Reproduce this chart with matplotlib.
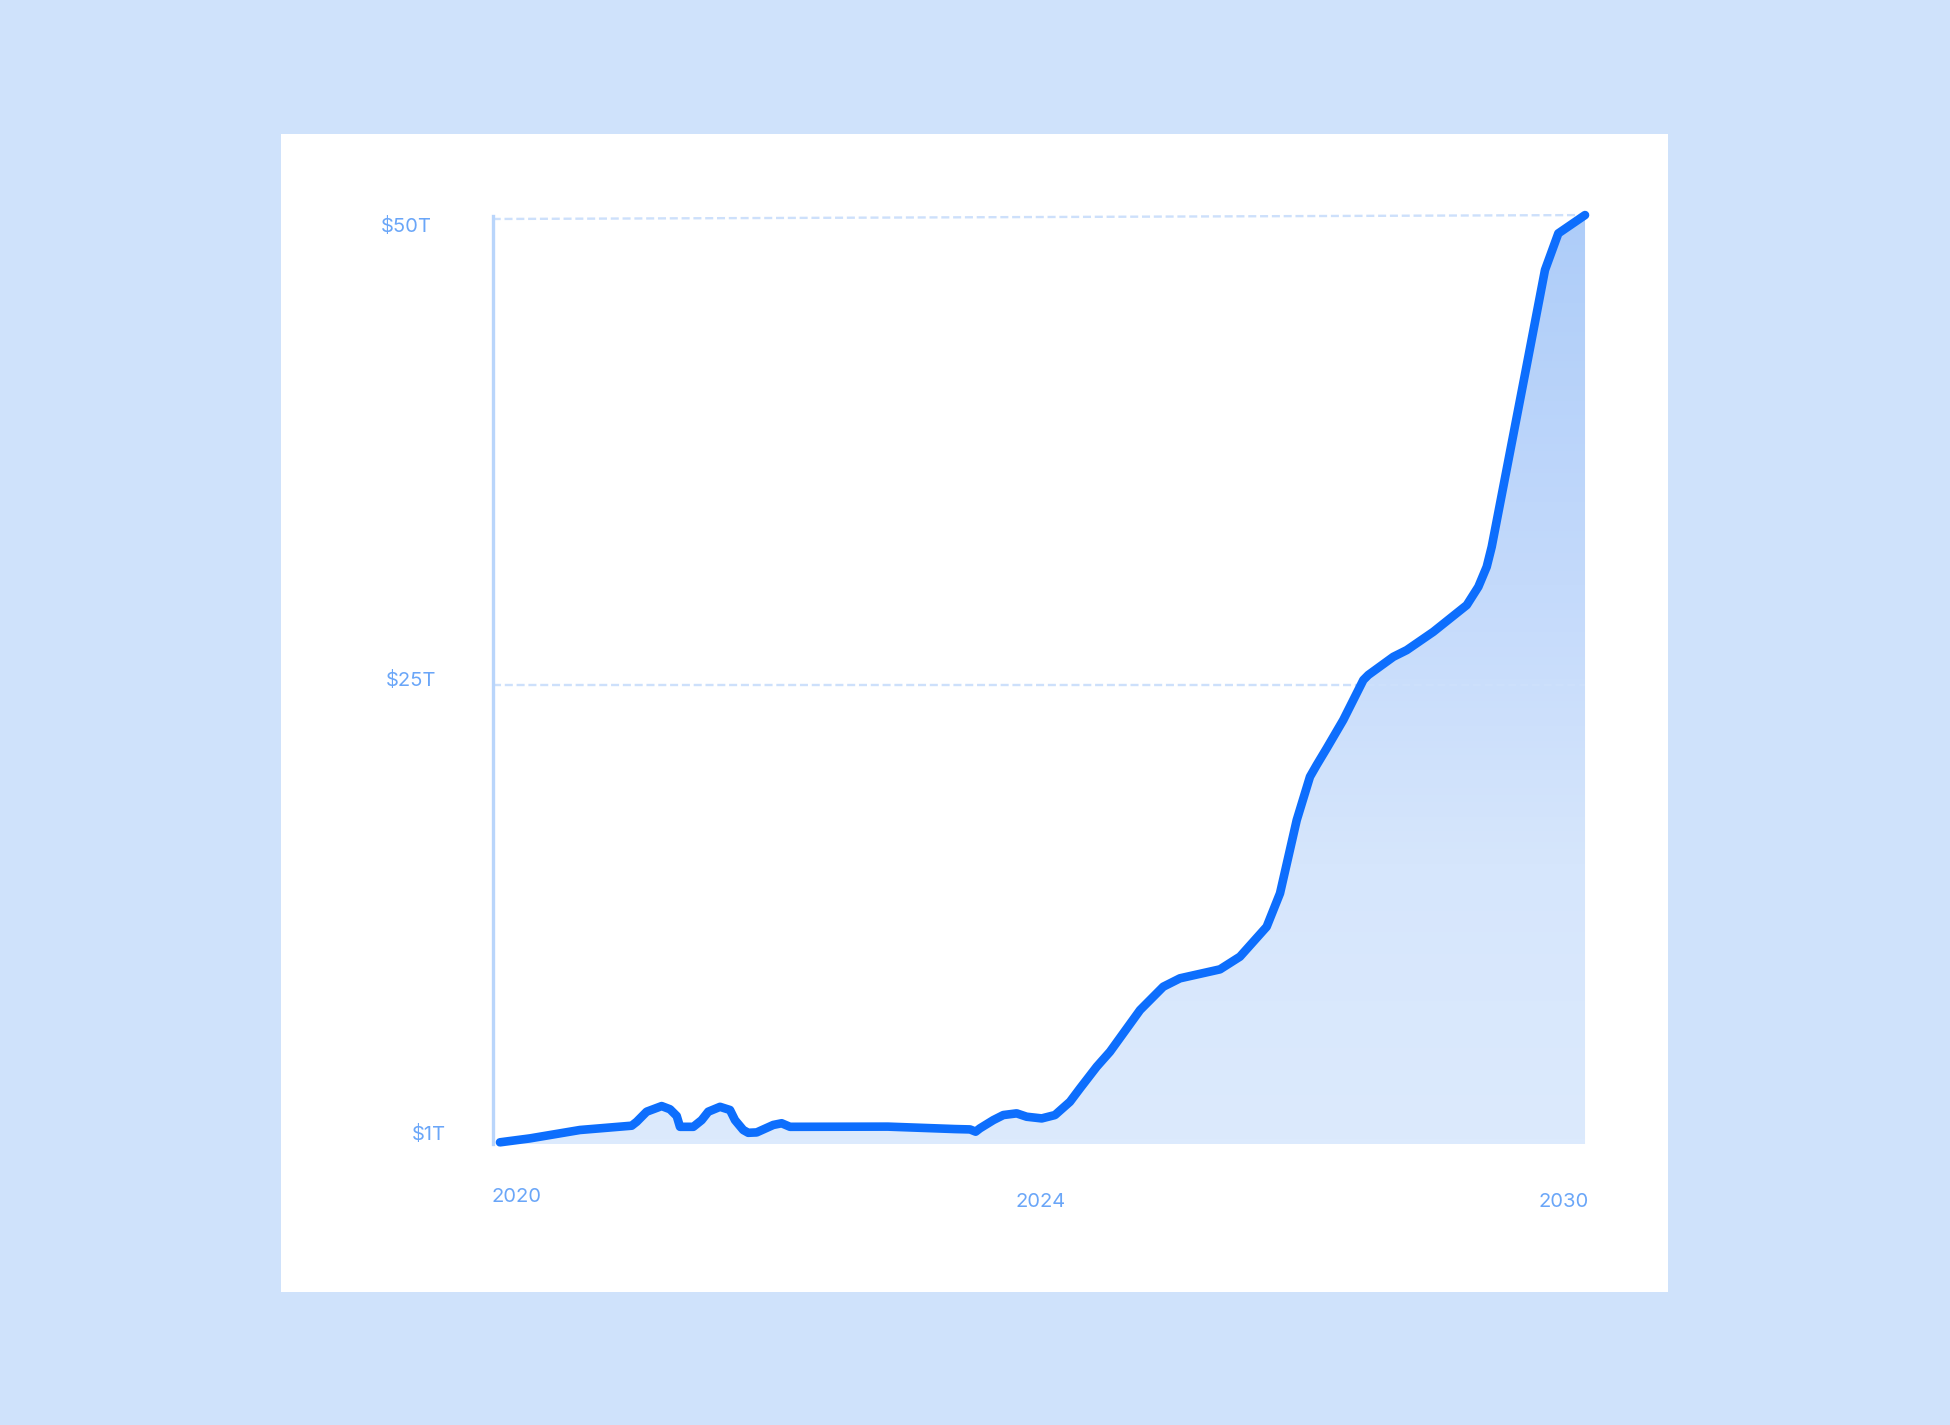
import numpy as np
import matplotlib
matplotlib.use("Agg")
import matplotlib.pyplot as plt
from matplotlib.patches import Rectangle, Polygon
from matplotlib.colors import LinearSegmentedColormap

# ---------------- data ----------------
# timeline position (0 = 2020, 50 = 2024, 100 = 2030), value in $T
timeline = [0, 2.76, 7.37, 12.14, 12.60, 13.52, 14.90, 15.67, 16.29, 16.59,
            17.82, 18.59, 19.20, 20.28, 21.20, 21.66, 22.42, 22.88, 23.66, 25.19,
            25.96, 26.73, 35.76, 41.94, 43.32, 43.84, 44.24, 45.47, 46.39, 47.62,
            48.54, 49.93, 51.15, 52.53, 53.46, 55.00, 56.22, 58.99, 61.13, 62.67,
            66.36, 68.20, 70.66, 71.89, 73.43, 74.65, 75.27, 76.19, 77.72, 79.57,
            80.03, 82.33, 83.57, 86.02, 89.10, 90.17, 90.94, 91.40, 93.09, 94.63,
            96.31, 97.54, 100.0]
market_value = [0.52, 0.73, 1.18, 1.41, 1.62, 2.16, 2.46, 2.29, 1.93, 1.35,
                1.35, 1.71, 2.16, 2.42, 2.25, 1.71, 1.18, 1.03, 1.05, 1.45,
                1.54, 1.35, 1.36, 1.23, 1.21, 1.09, 1.27, 1.71, 1.98, 2.07,
                1.89, 1.80, 1.98, 2.69, 3.41, 4.57, 5.37, 7.60, 8.85, 9.30,
                9.78, 10.46, 12.06, 13.85, 17.77, 20.09, 20.72, 21.61, 23.13, 25.27,
                25.54, 26.51, 26.87, 27.85, 29.28, 30.26, 31.33, 32.40, 37.49, 42.13,
                47.22, 49.18, 50.16]
y_ticks = [50, 25, 1]
y_tick_labels = ["$50T", "$25T", "$1T"]
x_ticks = [0, 50, 100]
x_tick_labels = ["2020", "2024", "2030"]

# ---------------- style ----------------
W, H = 1950, 1425
BG = "#cfe2fb"
LINE = "#0d6efd"
LABEL = "#6aa6f8"
GRID = "#cde0fb"
AXIS = "#b9d5fb"
FONT = ["Inter", "DejaVu Sans"]

fig = plt.figure(figsize=(W / 100, H / 100), dpi=100, facecolor=BG)

# white card
card = Rectangle((281 / W, 1 - 1292 / H), (1668 - 281) / W, (1292 - 134) / H,
                 transform=fig.transFigure, facecolor="white", edgecolor="none", zorder=0)
fig.patches.append(card)

# axes placement (pixels)
L, R, T, B = 492.7, 1586, 216, 1144
ax = fig.add_axes([L / W, 1 - B / H, (R - L) / W, (B - T) / H])
ax.set_facecolor("none")
ax.set_zorder(2)

xlim = (-0.67, 100.09)
ylim = (0.43, 50.11)

x = np.array(timeline)
y = np.array(market_value)

# gradient fill under the curve
verts = [(x[0], ylim[0])] + list(zip(x, y)) + [(x[-1], ylim[0])]
poly = Polygon(verts, closed=True, facecolor="none", edgecolor="none")
ax.add_patch(poly)
cmap = LinearSegmentedColormap.from_list(
    "fillgrad", [(0.0, "#dceafd"), (0.3, "#d6e6fc"), (0.6, "#c4dafb"), (1.0, "#aecdf9")])
grad = np.linspace(0, 1, 256).reshape(-1, 1)
im = ax.imshow(grad, extent=[x[0], x[-1], ylim[0], 50.2], origin="lower",
               aspect="auto", cmap=cmap, zorder=1, interpolation="bicubic")
im.set_clip_path(poly)

# dashed gridlines
dash = (0, (3.4, 1.6))
ax.plot([xlim[0], x[-1]], [25, 25], color=GRID, lw=1.7, linestyle=dash, zorder=2)
ax.plot([xlim[0], x[-1]], [y_ticks[0] - 0.05, y[-1]], color=GRID, lw=1.7,
        linestyle=dash, zorder=2, clip_on=False)

# main line
ax.plot(x, y, color=LINE, lw=6.2, solid_capstyle="round", solid_joinstyle="round",
        zorder=5, clip_on=False)

ax.set_xlim(*xlim)
ax.set_ylim(*ylim)
for s in ["top", "right", "bottom"]:
    ax.spines[s].set_visible(False)
ax.spines["left"].set_color(AXIS)
ax.spines["left"].set_linewidth(2.4)
ax.set_xticks([])
ax.set_yticks([])

# y labels (pixel positions measured from layout)
y_label_pos = [(432, 226), (436, 681), (446, 1135)]
for lab, (px, py) in zip(y_tick_labels, y_label_pos):
    fig.text(px / W, 1 - py / H, lab, ha="right", va="center", color=LABEL,
             fontsize=14.5, family=FONT)

# x labels
x_label_pos = [(491, 1197, "left"), (1041, 1202, "center"), (1589, 1202, "right")]
for lab, (px, py, ha) in zip(x_tick_labels, x_label_pos):
    fig.text(px / W, 1 - py / H, lab, ha=ha, va="center", color=LABEL,
             fontsize=14.5, family=FONT)

fig.savefig("out.png", dpi=100, facecolor=BG)
